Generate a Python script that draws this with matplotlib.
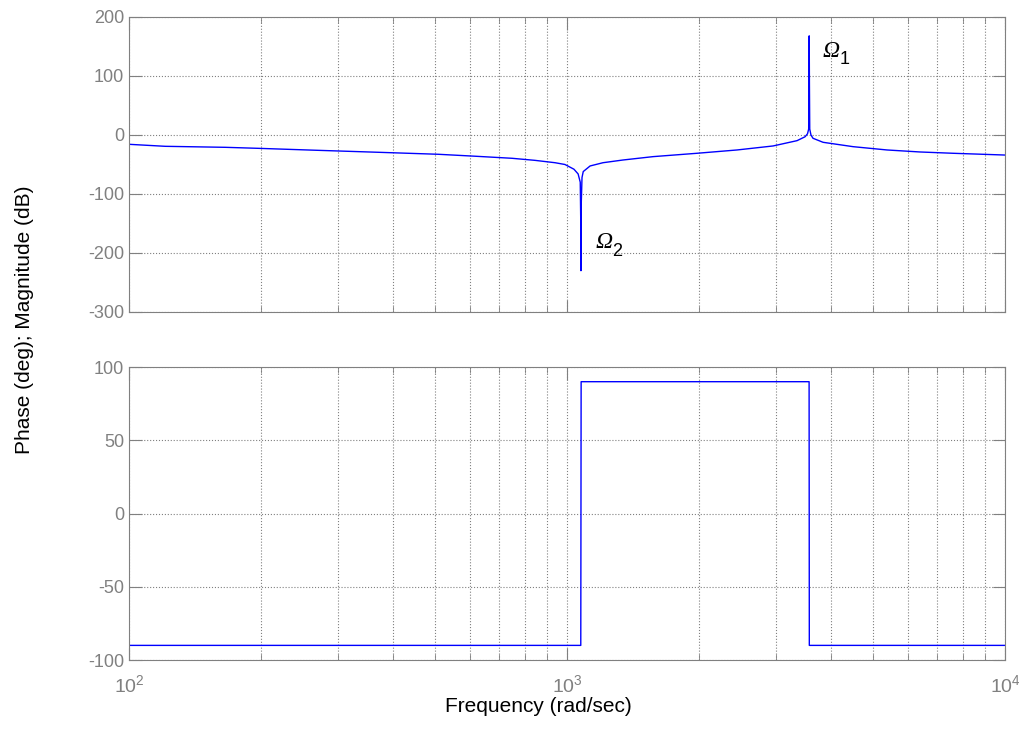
import matplotlib
matplotlib.use("Agg")
import matplotlib.pyplot as plt
from matplotlib.ticker import LogLocator, NullFormatter
from matplotlib.transforms import offset_copy

plt.rcParams['font.family'] = ['Liberation Sans', 'DejaVu Sans']
plt.rcParams['axes.unicode_minus'] = False

# magnitude curve (rad/sec, dB)
freq_mag = [100, 121, 166, 197, 270, 370, 508, 617, 749, 845, 939, 989, 1037,
            1060, 1072, 1075, 1076, 1077, 1078, 1082, 1089, 1129, 1208, 1342,
            1572, 1981, 2444, 2954, 3351, 3495, 3540, 3562, 3568, 3572, 3576,
            3582, 3605, 3644, 3842, 4498, 5378, 6397, 7606, 10000]
mag_db = [-15.8, -19.2, -20.9, -22.6, -26, -29.3, -32.7, -36, -39.5, -43, -47, -50, -58,
          -66, -80, -150, -230, -190, -113, -72, -62, -52.5, -47, -42.4,
          -36.7, -31, -25.4, -18.6, -9.6, -3, 2, 10, 88, 168, 88,
          10, 0, -5.6, -12.4, -19.8, -25.4, -28.8, -31, -34]

# phase curve (rad/sec, deg)
freq_ph = [100, 1075, 1077, 3570, 3574, 10000]
phase_deg = [-90, -90, 90, 90, -90, -90]

# resonance labels: (subscript, freq, dB)
omega_labels = [('1', 3830, 142), ('2', 1160, -183)]

grey = '#808080'
blue = '#0000ff'

fig = plt.figure(figsize=(10.19, 7.48), dpi=100)
ax1 = fig.add_axes([0.1266, 0.5829, 0.8597, 0.3944])
ax2 = fig.add_axes([0.1266, 0.1176, 0.8597, 0.3917])

for ax in (ax1, ax2):
    ax.set_xscale('log')
    ax.set_xlim(100, 10000)
    ax.xaxis.set_major_locator(LogLocator(base=10))
    ax.xaxis.set_minor_locator(LogLocator(base=10, subs=range(2, 10)))
    ax.xaxis.set_minor_formatter(NullFormatter())
    ax.grid(True, which='major', color=grey, linestyle=':', linewidth=0.8)
    ax.grid(True, which='minor', axis='x', color=grey, linestyle=':', linewidth=0.8)
    ax.tick_params(which='both', direction='in', top=True, right=True,
                   colors=grey, labelsize=13, labelcolor=grey)
    ax.tick_params(which='major', length=9)
    ax.tick_params(which='minor', length=4)
    for s in ax.spines.values():
        s.set_color(grey)

ax1.plot(freq_mag, mag_db, color=blue, linewidth=1)
ax1.set_ylim(-300, 200)
ax1.set_yticks([-300, -200, -100, 0, 100, 200])
ax1.tick_params(labelbottom=False)

# italic omega with an upright subscript
for sub, f, db in omega_labels:
    ax1.text(f, db, '\u03a9', fontsize=17, family='Liberation Serif', style='italic',
             ha='left', va='center')
    tr = offset_copy(ax1.transData, fig=fig, x=12, y=-6, units='points')
    ax1.text(f, db, sub, fontsize=13, ha='left', va='center', transform=tr)

ax2.plot(freq_ph, phase_deg, color=blue, linewidth=1)
ax2.set_ylim(-100, 100)
ax2.set_yticks([-100, -50, 0, 50, 100])
ax2.tick_params(axis='x', labelsize=14, pad=10)

fig.text(0.528, 0.056, 'Frequency (rad/sec)', fontsize=15, ha='center', va='center')
fig.text(0.0236, 0.572, 'Phase (deg); Magnitude (dB)', fontsize=15,
         rotation=90, ha='center', va='center')

fig.savefig('out.png', dpi=100)
